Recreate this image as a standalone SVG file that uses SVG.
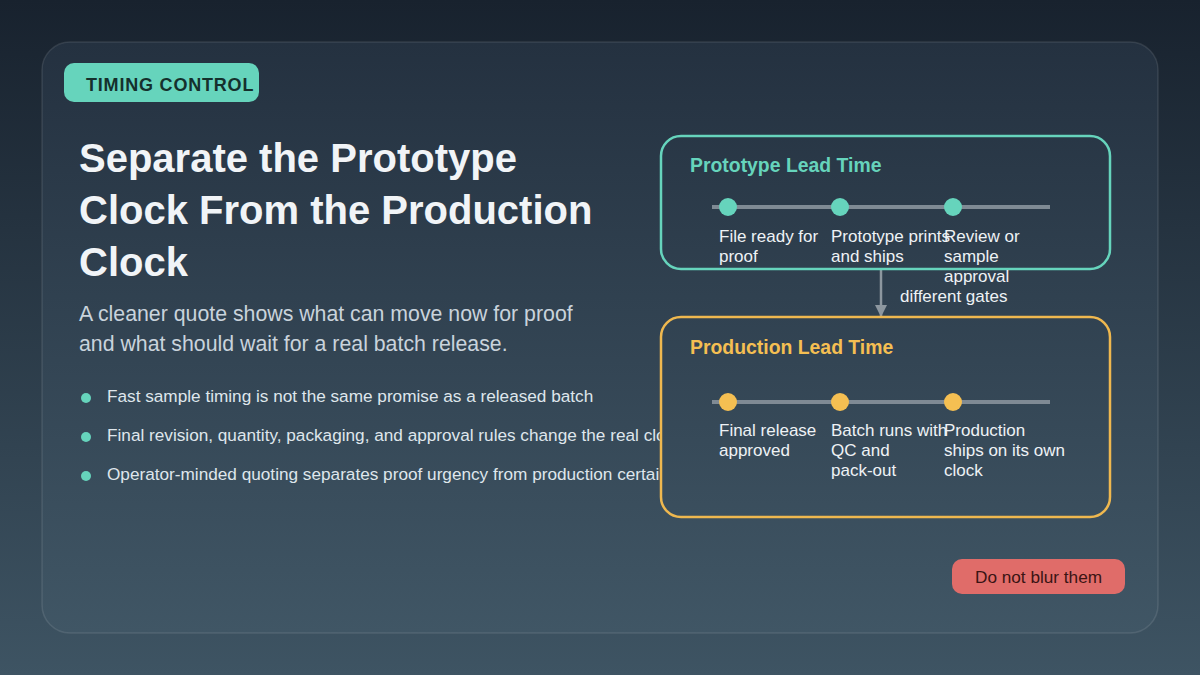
<svg xmlns="http://www.w3.org/2000/svg" width="1200" height="675" viewBox="0 0 1200 675">
  <defs>
    <linearGradient id="bg" x1="0" y1="0" x2="0" y2="675" gradientUnits="userSpaceOnUse">
      <stop offset="0" stop-color="#18222e"/>
      <stop offset="1" stop-color="#3e5463"/>
    </linearGradient>
    <linearGradient id="card" x1="0" y1="42" x2="0" y2="633" gradientUnits="userSpaceOnUse">
      <stop offset="0" stop-color="#243140"/>
      <stop offset="1" stop-color="#405665"/>
    </linearGradient>
    <marker id="arrow" viewBox="0 0 12 12" refX="11" refY="6" markerWidth="12" markerHeight="12" markerUnits="userSpaceOnUse" orient="auto">
      <path d="M0,0 L12,6 L0,12 z" fill="#8d979f"/>
    </marker>
    <style>
      .sans { font-family: "Liberation Sans", Arial, sans-serif; }
      .title { font-size: 40px; font-weight: bold; fill: #f1f4f7; }
      .sub { font-size: 21.3px; fill: #c9d3dc; }
      .bullet { font-size: 17.2px; fill: #dfe6ec; }
      .dot { fill: #66d4bc; }
      .box { fill: url(#card); stroke-width: 2.5; }
      .boxtitle { font-size: 19.4px; font-weight: bold; }
      .track { stroke: #7f8a94; stroke-width: 4; }
      .lbl { font-size: 17px; fill: #eef2f5; }
      .teal { fill: #66d4bc; }
      .gold { fill: #f5bf52; }
    </style>
  </defs>

  <rect x="0" y="0" width="1200" height="675" fill="url(#bg)"/>
  <rect x="42" y="42" width="1116" height="591" rx="28" fill="url(#card)" stroke="#ffffff" stroke-opacity="0.1" stroke-width="1.5"/>

  <g id="badge">
    <rect x="64" y="63" width="195" height="39" rx="10" fill="#66d4bc"/>
    <text x="86" y="91" class="sans" font-size="18" font-weight="bold" fill="#15302c" letter-spacing="0.8">TIMING CONTROL</text>
  </g>

  <g id="heading" class="sans">
    <text class="title" x="79" y="172">Separate the Prototype</text>
    <text class="title" x="79" y="224">Clock From the Production</text>
    <text class="title" x="79" y="276">Clock</text>
    <text class="sub" x="79" y="321">A cleaner quote shows what can move now for proof</text>
    <text class="sub" x="79" y="351">and what should wait for a real batch release.</text>
  </g>

  <g id="bullets" class="sans">
    <circle class="dot" cx="86" cy="398" r="5"/>
    <text class="bullet" x="107" y="402">Fast sample timing is not the same promise as a released batch</text>
    <circle class="dot" cx="86" cy="437" r="5"/>
    <text class="bullet" x="107" y="441">Final revision, quantity, packaging, and approval rules change the real clock</text>
    <circle class="dot" cx="86" cy="476" r="5"/>
    <text class="bullet" x="107" y="480">Operator-minded quoting separates proof urgency from production certainty</text>
  </g>

  <g id="connectors">
    <line x1="881" y1="270" x2="881" y2="316" stroke="#8d979f" stroke-width="2.5" marker-end="url(#arrow)"/>
    <text class="sans lbl" x="900" y="302">different gates</text>
  </g>

  <g id="prototype">
    <rect class="box" x="661" y="136" width="449" height="133" rx="20" stroke="#66d4bc"/>
    <text class="sans boxtitle teal" x="690" y="172">Prototype Lead Time</text>
    <line class="track" x1="712" y1="207" x2="1050" y2="207"/>
    <circle class="teal" cx="728" cy="207" r="9"/>
    <circle class="teal" cx="840" cy="207" r="9"/>
    <circle class="teal" cx="953" cy="207" r="9"/>
    <text class="sans lbl" x="719" y="242">File ready for<tspan x="719" dy="20">proof</tspan></text>
    <text class="sans lbl" x="831" y="242">Prototype prints<tspan x="831" dy="20">and ships</tspan></text>
    <text class="sans lbl" x="944" y="242">Review or<tspan x="944" dy="20">sample</tspan><tspan x="944" dy="20">approval</tspan></text>
  </g>

  <g id="production">
    <rect class="box" x="661" y="317" width="449" height="200" rx="20" stroke="#efb84f"/>
    <text class="sans boxtitle gold" x="690" y="354">Production Lead Time</text>
    <line class="track" x1="712" y1="402" x2="1050" y2="402"/>
    <circle class="gold" cx="728" cy="402" r="9"/>
    <circle class="gold" cx="840" cy="402" r="9"/>
    <circle class="gold" cx="953" cy="402" r="9"/>
    <text class="sans lbl" x="719" y="436">Final release<tspan x="719" dy="20">approved</tspan></text>
    <text class="sans lbl" x="831" y="436">Batch runs with<tspan x="831" dy="20">QC and</tspan><tspan x="831" dy="20">pack-out</tspan></text>
    <text class="sans lbl" x="944" y="436">Production<tspan x="944" dy="20">ships on its own</tspan><tspan x="944" dy="20">clock</tspan></text>
  </g>

  <g id="callout">
    <rect x="952" y="559" width="173" height="35" rx="10" fill="#e06c69"/>
    <text class="sans" x="1038.5" y="583" font-size="17.2" fill="#3a1414" text-anchor="middle">Do not blur them</text>
  </g>
</svg>
